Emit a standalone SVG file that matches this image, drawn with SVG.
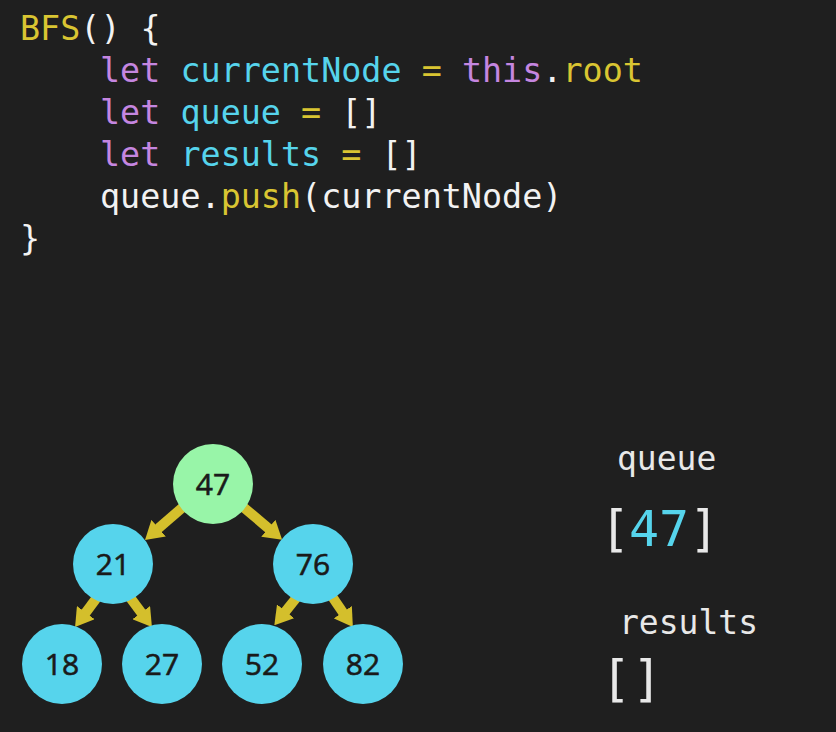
<svg xmlns="http://www.w3.org/2000/svg" width="836" height="732" viewBox="0 0 836 732">
<defs>
<style>
.code{font-family:"DejaVu Sans Mono","Liberation Mono",monospace;font-size:33.4px;fill:#f2f2f2}
.kw{fill:#c586e0}
.fn{fill:#d9c532}
.node text{font-family:"Open Sans","DejaVu Sans",sans-serif;font-size:30px;fill:#1a1a1a;stroke:#1a1a1a;stroke-width:0.6;text-anchor:middle}
.blue{fill:#56d4ec}
.green{fill:#98f5a8}
.edge{stroke:#d4bf2c;stroke-width:10;fill:none}
.lbl{font-family:"DejaVu Sans Mono","Liberation Mono",monospace;font-size:33px;fill:#e8e8e8}
.big{font-family:"DejaVu Sans Mono","Liberation Mono",monospace;font-size:50px;fill:#e8e8e8}
.var{fill:#56d4ec}
</style>
<marker id="ah" viewBox="0 0 18 22" refX="4" refY="11" markerWidth="18" markerHeight="22" orient="auto" markerUnits="userSpaceOnUse">
<path d="M0,0 L18,11 L0,22 z" fill="#d4bf2c"/>
</marker>
</defs>
<rect width="836" height="732" fill="#1f1f1f"/>
<g id="code" class="code">
<text x="20" y="40"><tspan class="fn">BFS</tspan>() {</text>
<text x="100" y="82"><tspan class="kw">let</tspan> <tspan class="var">currentNode</tspan> <tspan class="fn">=</tspan> <tspan class="kw">this</tspan>.<tspan class="fn">root</tspan></text>
<text x="100" y="124"><tspan class="kw">let</tspan> <tspan class="var">queue</tspan> <tspan class="fn">=</tspan> []</text>
<text x="100" y="166"><tspan class="kw">let</tspan> <tspan class="var">results</tspan> <tspan class="fn">=</tspan> []</text>
<text x="100" y="208">queue.<tspan class="fn">push</tspan>(currentNode)</text>
<text x="20" y="250">}</text>
</g>
<g id="connectors">
<line class="edge" x1="190" y1="501" x2="155.6" y2="530.8" marker-end="url(#ah)"/>
<line class="edge" x1="236" y1="501" x2="271.4" y2="530.8" marker-end="url(#ah)"/>
<line class="edge" x1="101" y1="592" x2="83.4" y2="615.8" marker-end="url(#ah)"/>
<line class="edge" x1="126" y1="592" x2="143.6" y2="615.8" marker-end="url(#ah)"/>
<line class="edge" x1="301" y1="592" x2="283.1" y2="614.4" marker-end="url(#ah)"/>
<line class="edge" x1="329" y1="592" x2="345" y2="615.5" marker-end="url(#ah)"/>
</g>
<g id="n47" class="node"><circle class="green" cx="213" cy="484" r="40"/><text x="213" y="494.5">47</text></g>
<g id="n21" class="node"><circle class="blue" cx="113" cy="564" r="40"/><text x="113" y="574.5">21</text></g>
<g id="n76" class="node"><circle class="blue" cx="313" cy="564" r="40"/><text x="313" y="574.5">76</text></g>
<g id="n18" class="node"><circle class="blue" cx="62" cy="664" r="40"/><text x="62" y="674.5">18</text></g>
<g id="n27" class="node"><circle class="blue" cx="162" cy="664" r="40"/><text x="162" y="674.5">27</text></g>
<g id="n52" class="node"><circle class="blue" cx="262" cy="664" r="40"/><text x="262" y="674.5">52</text></g>
<g id="n82" class="node"><circle class="blue" cx="363" cy="664" r="40"/><text x="363" y="674.5">82</text></g>
<g id="panel">
<text class="lbl" x="617" y="470">queue</text>
<text class="big" x="600" y="546">[</text>
<text class="big var" x="629" y="546">47</text>
<text class="big" x="689" y="546">]</text>
<text class="lbl" x="619" y="634">results</text>
<text class="big" x="601" y="696">[</text>
<text class="big" x="632" y="696">]</text>
</g>
</svg>
